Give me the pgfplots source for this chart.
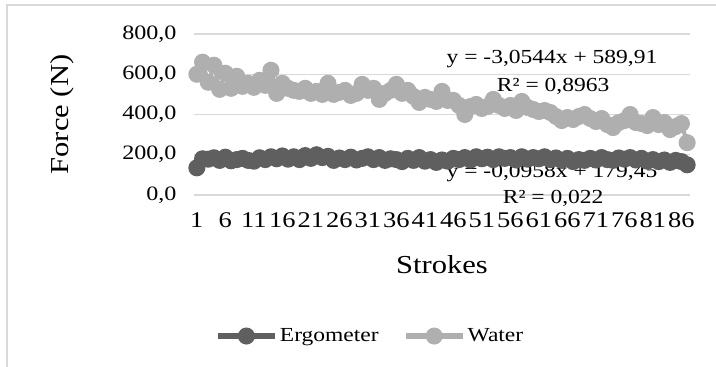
\documentclass[border=0pt]{standalone}
\usepackage{fontspec}
\setmainfont{Liberation Serif}[FakeStretch=1.18]
\usepackage{pgfplots}
\pgfplotsset{compat=1.18}
\usepackage{pgfplotstable}
\definecolor{ergo}{HTML}{5F5F5F}
\definecolor{water}{HTML}{AFAFAF}
\definecolor{gridc}{HTML}{D9D9D9}

\pgfplotstableread{
x ergo water
1 135 600
2 180 660
3 178 560
4 185 645
5 172 525
6 188 605
7 170 530
8 176 590
9 182 540
10 172 555
11 168 535
12 185 570
13 176 545
14 190 620
15 180 505
16 194 555
17 178 530
18 190 520
19 176 515
20 196 530
21 182 505
22 200 515
23 186 500
24 192 555
25 172 500
26 184 510
27 176 520
28 188 495
29 174 505
30 182 550
31 190 520
32 176 530
33 186 475
34 172 505
35 180 520
36 176 550
37 166 505
38 182 520
39 172 490
40 186 460
41 168 485
42 176 475
43 162 465
44 174 515
45 168 470
46 182 470
47 176 445
48 186 400
49 174 440
50 190 450
51 180 430
52 188 440
53 176 475
54 190 445
55 182 430
56 186 445
57 174 420
58 190 465
59 178 435
60 186 425
61 180 415
62 190 420
63 176 410
64 184 390
65 172 370
66 182 385
67 166 375
68 176 390
69 172 400
70 182 380
71 174 365
72 186 380
73 176 350
74 172 335
75 184 360
76 178 370
77 186 400
78 174 360
79 182 355
80 168 345
81 176 385
82 166 350
83 174 360
84 162 325
85 172 340
86 166 355
87 150 260
}\data

\begin{document}
\begin{tikzpicture}
\begin{axis}[
  scale only axis, width=496bp, height=161bp,
  xmin=0.5, xmax=87.5, ymin=0, ymax=800,
  clip=false,
  axis line style={draw=none},
  major tick length=0pt,
  ytick={0,200,...,800},
  xtick={1,6,...,86},
  ymajorgrids, grid style={gridc, line width=1.3bp},
  /pgf/number format/assume math mode=true,
  yticklabel style={font=\fontsize{20.5}{24}\selectfont, xshift=-14bp,
    /pgf/number format/.cd, fixed, fixed zerofill, precision=1, use comma, 1000 sep={}},
  xticklabel style={font=\fontsize{22.5}{26}\selectfont, yshift=-14bp},
  xlabel={Strokes},
  xlabel style={at={(rel axis cs:0.5,-0.435)}, anchor=center, font=\fontsize{26}{30}\selectfont},
  ylabel={Force (N)},
  ylabel style={at={(rel axis cs:-0.266,0.5)}, anchor=center, font=\fontsize{26}{30}\selectfont},
  legend columns=2,
  legend style={at={(rel axis cs:0.355,-0.876)}, anchor=center, draw=none, fill=none,
    font=\fontsize{20}{24}\selectfont,
    /tikz/every even column/.append style={column sep=22bp}},
  legend image code/.code={
    \draw[line width=6bp] (0bp,0bp) -- (57bp,0bp);
    \fill (28.5bp,0bp) circle (6.5bp);
  },
]
\coordinate (O) at (rel axis cs:0,0);
\addplot[ergo, line width=4bp, mark=*, mark size=6.5bp, mark options={solid, fill=ergo, draw=ergo}] table[x=x,y=ergo]{\data};
\addlegendentry{Ergometer}
\addplot[water, line width=4bp, mark=*, mark size=6.5bp, mark options={solid, fill=water, draw=water}] table[x=x,y=water]{\data};
\addlegendentry{Water}
\node[font=\fontsize{20}{24}\selectfont] at (axis cs:63.3,675) {y = -3,0544x + 589,91};
\node[font=\fontsize{20}{24}\selectfont] at (axis cs:63.5,540) {R² = 0,8963};
\node[font=\fontsize{20}{24}\selectfont] at (axis cs:63.3,110) {y = -0,0958x + 179,45};
\node[font=\fontsize{20}{24}\selectfont] at (axis cs:63.5,-15) {R² = 0,022};
\end{axis}
\draw[gridc, line width=1.2bp] ([shift={(-187bp,-180bp)}]O) -- ([shift={(-187bp,190bp)}]O) -- ([shift={(530bp,190bp)}]O);
\pgfresetboundingbox
\path[use as bounding box] ([shift={(-194bp,-172bp)}]O) rectangle ([shift={(522bp,195bp)}]O);
\end{tikzpicture}
\end{document}
